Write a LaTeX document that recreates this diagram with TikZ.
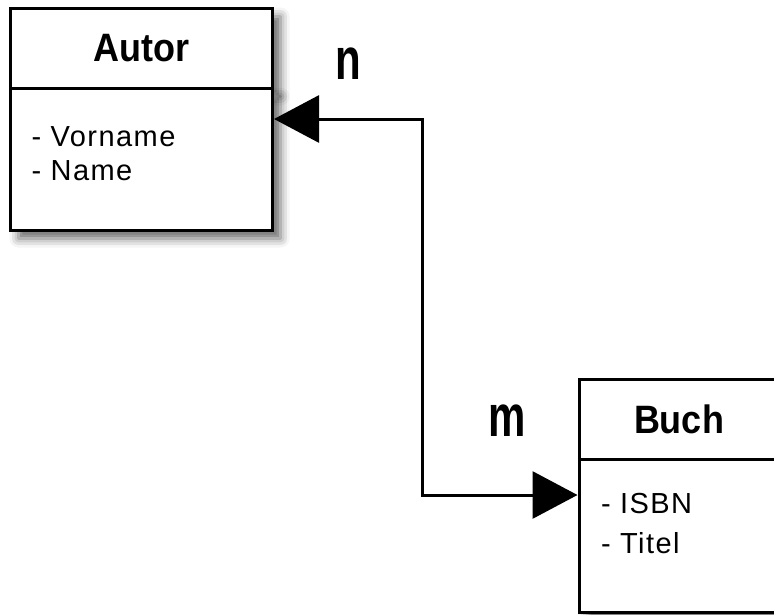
\documentclass[tikz,border=0pt]{standalone}
\usepackage{fontspec}
\usepackage{graphicx}
\setmainfont{Liberation Sans}
\usetikzlibrary{positioning,arrows.meta,shadows.blur}

\begin{document}
\begin{tikzpicture}[x=1pt,y=1pt,line width=3pt,>={Triangle[length=45pt,width=47pt]},
    head/.style={rectangle,draw,fill=white,minimum height=80pt,font=\fontsize{36}{36}\selectfont\bfseries,
        blur shadow={shadow xshift=8pt,shadow yshift=-8pt,shadow blur radius=9pt,shadow opacity=60}},
    body/.style={rectangle,draw,fill=white,
        blur shadow={shadow xshift=8pt,shadow yshift=-8pt,shadow blur radius=9pt,shadow opacity=60}},
    attr/.style={inner sep=0pt,align=left,anchor=north west},
    card/.style={inner sep=0pt,font=\fontsize{42}{42}\selectfont\bfseries}]
    \useasboundingbox (0,0) rectangle (774,-614);

    % Autor
    \node[head, anchor=north west, minimum width=262pt] (10) at (9,-7) {\scalebox{1}[1.1]{Autor}};
    \node[body, below=-3pt of 10, minimum width=262pt, minimum height=142pt] (11) {};
    \node[attr, font=\fontsize{29}{34}\selectfont\addfontfeatures{LetterSpace=5}] (12)
        at ([shift={(21,-38)}]11.north west) {- Vorname\\- Name};

    % Buch
    \node[head, anchor=north west, minimum width=200pt] (20) at (577.5,-377.5) {\scalebox{1}[1.1]{Buch}};
    \node[body, below=-3pt of 20, minimum width=200pt, minimum height=153pt] (21) {};
    \node[attr, font=\fontsize{29}{40}\selectfont\addfontfeatures{LetterSpace=5}] (22)
        at ([shift={(22,-34)}]21.north west) {- ISBN\\- Titel};

    % Beziehung
    \coordinate (14) at (422,-119);
    \coordinate (24) at (422,-495);
    \node[card] (13) at (348,-64) {\scalebox{1}[1.4]{n}};
    \node[card] (23) at (507,-421) {\scalebox{1}[1.4]{m}};

    \draw[<->] (11.east |- 14) -- (14) -- (24) -- (21.west |- 24);
\end{tikzpicture}
\end{document}
